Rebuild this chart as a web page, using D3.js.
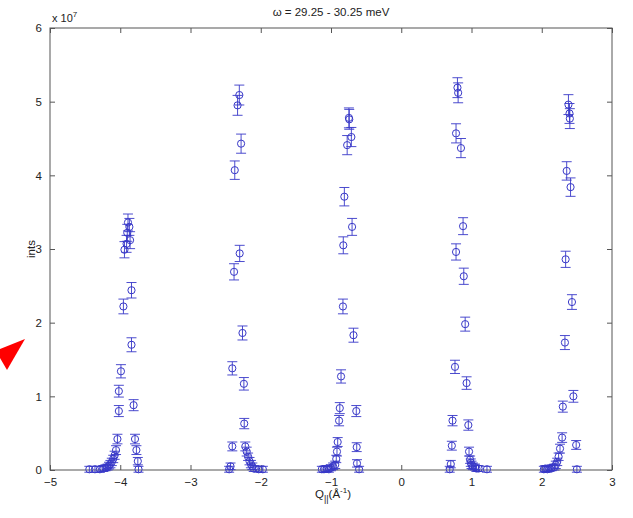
<!DOCTYPE html>
<html><head><meta charset="utf-8">
<script src="https://cdn.jsdelivr.net/npm/d3@7"></script>
<style>body{margin:0;background:#fff}svg{display:block}text{font-family:"Liberation Sans",Arial,sans-serif;fill:#222}</style>
</head><body><svg id="c" width="633" height="518"></svg>
<script>
// Q (Å^-1), intensity (x 1e7), error (x 1e7) — grouped by peak
const qValues = [
 -4.44,-4.36,-4.29,-4.24,-4.21,-4.18,-4.16,-4.14,-4.12,-4.10,-4.08,-4.06,-4.04,-4.02,-4.02,-3.99,-3.955,-3.94,-3.91,-3.90,-3.89,-3.87,-3.86,-3.84,-3.84,-3.81,-3.79,-3.77,-3.75,-3.74,
 -2.45,-2.43,-2.405,-2.405,-2.38,-2.37,-2.33,-2.305,-2.30,-2.28,-2.26,-2.24,-2.235,-2.22,-2.20,-2.18,-2.16,-2.14,-2.12,-2.10,-2.03,-1.97,
 -1.13,-1.10,-1.06,-1.03,-1.00,-0.97,-0.94,-0.925,-0.915,-0.905,-0.885,-0.875,-0.857,-0.83,-0.825,-0.81,-0.77,-0.745,-0.74,-0.71,-0.70,-0.68,-0.64,-0.634,-0.63,-0.60,
 0.69,0.705,0.72,0.73,0.765,0.78,0.78,0.80,0.81,0.85,0.88,0.89,0.91,0.93,0.955,0.965,0.98,0.99,1.00,1.02,1.05,1.07,1.10,1.22,
 2.03,2.05,2.08,2.11,2.14,2.18,2.20,2.22,2.24,2.26,2.29,2.30,2.33,2.34,2.355,2.38,2.395,2.40,2.41,2.43,2.45,2.49,2.50
];
const intensities = [
 0.01,0.01,0.01,0.02,0.03,0.04,0.06,0.08,0.11,0.15,0.20,0.27,0.42,0.80,1.07,1.34,2.22,2.99,3.07,3.22,3.36,3.30,3.12,2.44,1.70,0.88,0.42,0.27,0.12,0.01,
 0.01,0.05,0.32,1.38,2.69,4.07,4.95,5.09,2.94,4.43,1.86,1.17,0.63,0.32,0.25,0.18,0.12,0.08,0.05,0.02,0.01,0.01,
 0.01,0.01,0.02,0.01,0.03,0.05,0.07,0.15,0.25,0.38,0.67,0.84,1.27,2.22,3.05,3.71,4.41,4.78,4.76,4.52,3.30,1.83,0.80,0.31,0.09,0.01,
 0.01,0.08,0.33,0.67,1.40,2.96,4.57,5.19,5.12,4.37,3.31,2.63,1.98,1.18,0.61,0.25,0.14,0.10,0.07,0.05,0.04,0.02,0.02,0.01,
 0.01,0.02,0.01,0.02,0.03,0.04,0.07,0.11,0.18,0.29,0.44,0.86,1.73,2.86,4.06,4.96,4.84,4.77,3.84,2.28,1.00,0.34,0.01
];
const errors = [
 0.04,0.04,0.04,0.04,0.04,0.04,0.045,0.05,0.05,0.05,0.055,0.06,0.065,0.075,0.08,0.09,0.10,0.11,0.115,0.115,0.115,0.115,0.115,0.105,0.095,0.075,0.065,0.06,0.05,0.04,
 0.04,0.045,0.06,0.09,0.11,0.125,0.135,0.135,0.11,0.13,0.095,0.085,0.07,0.06,0.06,0.05,0.05,0.05,0.045,0.04,0.04,0.04,
 0.04,0.04,0.04,0.04,0.04,0.045,0.05,0.05,0.06,0.06,0.07,0.075,0.09,0.10,0.115,0.125,0.13,0.135,0.135,0.13,0.115,0.095,0.075,0.06,0.05,0.04,
 0.04,0.05,0.06,0.07,0.09,0.11,0.13,0.135,0.135,0.13,0.115,0.11,0.095,0.085,0.07,0.06,0.05,0.05,0.05,0.045,0.04,0.04,0.04,0.04,
 0.04,0.04,0.04,0.04,0.04,0.04,0.05,0.05,0.05,0.06,0.065,0.075,0.095,0.11,0.125,0.135,0.135,0.135,0.125,0.10,0.08,0.06,0.04
];
const xTicks = [-5,-4,-3,-2,-1,0,1,2,3];
const yTicks = [0,1,2,3,4,5,6];
const titleText = "ω = 29.25 - 30.25 meV";

const svg = d3.select("#c");
const x = d3.scaleLinear().domain([-5,3]).range([50,612]);
const y = d3.scaleLinear().domain([0,6]).range([470,28]);
const axisCol = "#555";
const blue = "#3838c8";

// red arrow at left
svg.append("polygon").attr("points","25,339 0,349 0,358 7,370").attr("fill","#ff0000");

// frame
svg.append("rect").attr("x",x(-5)).attr("y",y(6)).attr("width",x(3)-x(-5)).attr("height",y(0)-y(6))
  .attr("fill","none").attr("stroke",axisCol).attr("stroke-width",1);

const gx = svg.append("g").attr("transform",`translate(0,${y(0)})`)
  .call(d3.axisBottom(x).tickValues(xTicks).tickSize(-5).tickPadding(8).tickFormat(d3.format("d")));
const gxt = svg.append("g").attr("transform",`translate(0,${y(6)})`)
  .call(d3.axisTop(x).tickValues(xTicks).tickSize(-5).tickFormat(""));
const gy = svg.append("g").attr("transform",`translate(${x(-5)},0)`)
  .call(d3.axisLeft(y).tickValues(yTicks).tickSize(-5).tickPadding(8).tickFormat(d3.format("d")));
const gyr = svg.append("g").attr("transform",`translate(${x(3)},0)`)
  .call(d3.axisRight(y).tickValues(yTicks).tickSize(-5).tickFormat(""));
[gx,gxt,gy,gyr].forEach(g=>{
  g.select(".domain").remove();
  g.selectAll("line").attr("stroke",axisCol);
  g.selectAll("text").attr("font-size",11.5).attr("fill","#222").style("font-family","Liberation Sans, Arial, sans-serif");
});

// data
const pts = d3.range(Math.min(qValues.length,intensities.length,errors.length))
  .map(i=>({q:qValues[i],v:intensities[i],e:errors[i]}));
const eg = svg.append("g").attr("stroke",blue).attr("fill","none").attr("stroke-width",0.9);
const cap = 5;
pts.forEach(p=>{
  const cx = x(p.q), y1 = y(p.v+p.e), y0 = y(p.v-p.e);
  eg.append("line").attr("x1",cx).attr("x2",cx).attr("y1",y1).attr("y2",y0);
  eg.append("line").attr("x1",cx-cap).attr("x2",cx+cap).attr("y1",y1).attr("y2",y1);
  eg.append("line").attr("x1",cx-cap).attr("x2",cx+cap).attr("y1",y0).attr("y2",y0);
});
svg.append("g").selectAll("circle").data(pts).join("circle")
  .attr("cx",d=>x(d.q)).attr("cy",d=>y(d.v)).attr("r",3.6)
  .attr("fill","none").attr("stroke",blue).attr("stroke-width",1);

// title
svg.append("text").attr("x",331).attr("y",16).attr("text-anchor","middle").attr("font-size",11.5).text(titleText);
// exponent
const ex = svg.append("text").attr("x",52).attr("y",22).attr("font-size",11);
ex.append("tspan").text("x 10");
ex.append("tspan").attr("dy",-5).attr("font-size",8).text("7");
// y label
svg.append("text").attr("transform","translate(35,249) rotate(-90)").attr("text-anchor","middle").attr("font-size",11.5).text("ints");
// x label
const xl = svg.append("text").attr("x",333).attr("y",498).attr("text-anchor","middle").attr("font-size",11.5);
xl.append("tspan").text("Q");
xl.append("tspan").attr("dy",4).attr("font-size",9).text("||");
xl.append("tspan").attr("dy",-4).text("(Å");
xl.append("tspan").attr("dy",-5).attr("font-size",8).text("-1");
xl.append("tspan").attr("dy",5).text(")");
</script></body></html>
